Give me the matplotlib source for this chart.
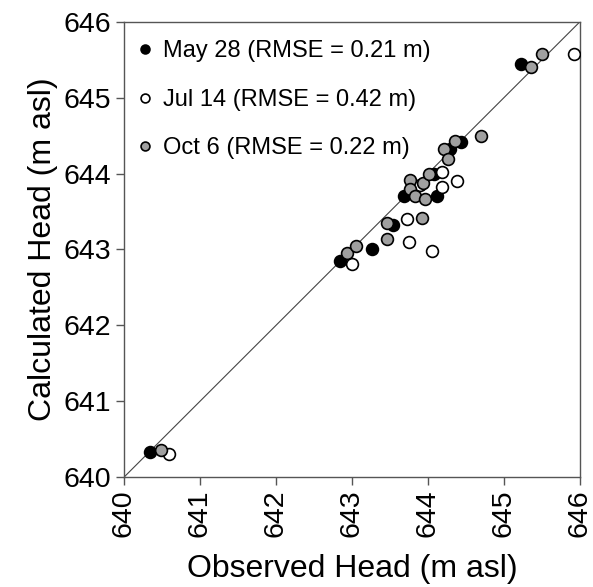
import numpy as np
import matplotlib.pyplot as plt

plt.rcParams['font.family'] = ['Liberation Sans', 'DejaVu Sans']

# observed vs calculated head
may_obs = [640.34, 642.84, 643.26, 643.54, 643.68, 644.08, 644.12, 644.29, 644.43, 645.23]
may_calc = [640.33, 642.85, 643.00, 643.32, 643.70, 643.99, 643.70, 644.32, 644.41, 645.44]

jul_obs = [640.59, 643.00, 643.72, 643.75, 644.05, 644.19, 644.19, 644.38, 643.90, 645.92]
jul_calc = [640.31, 642.81, 643.40, 643.10, 642.98, 644.02, 643.82, 643.90, 643.85, 645.58]

oct_obs = [640.49, 642.93, 643.05, 643.46, 643.46, 643.92, 643.76, 643.76, 643.83, 643.96,
           643.93, 644.01, 644.21, 644.27, 644.36, 644.70, 645.36, 645.50]
oct_calc = [640.36, 642.96, 643.04, 643.35, 643.14, 643.41, 643.91, 643.80, 643.70, 643.67,
            643.87, 644.00, 644.33, 644.19, 644.43, 644.49, 645.41, 645.57]

labels = ['May 28 (RMSE = 0.21 m)', 'Jul 14 (RMSE = 0.42 m)', 'Oct 6 (RMSE = 0.22 m)']
ticks = [640, 641, 642, 643, 644, 645, 646]

fig = plt.figure(figsize=(5.93, 5.87), dpi=100)
ax = fig.add_axes([0.209, 0.187, 0.769, 0.776])

ax.plot([640, 646], [640, 646], color='#444444', lw=0.8, zorder=1)

ms = 8.5
ax.plot(may_obs, may_calc, 'o', ms=ms, mfc='black', mec='black', mew=1.2, label=labels[0], zorder=3)
ax.plot(jul_obs, jul_calc, 'o', ms=ms, mfc='white', mec='black', mew=1.2, label=labels[1], zorder=3)
ax.plot(oct_obs, oct_calc, 'o', ms=ms, mfc='#a0a0a0', mec='black', mew=1.2, label=labels[2], zorder=3)

ax.set_xlim(640, 646)
ax.set_ylim(640, 646)
ax.set_xticks(ticks)
ax.set_yticks(ticks)
ax.set_xticklabels([str(t) for t in ticks], rotation=90, fontsize=20.5)
ax.set_yticklabels([str(t) for t in ticks], fontsize=20.5)
ax.tick_params(direction='out', length=6, width=1, color='#555555', pad=3)
for s in ax.spines.values():
    s.set_color('#555555')
    s.set_linewidth(1)

ax.set_xlabel('Observed Head (m asl)', fontsize=23, labelpad=12)
ax.set_ylabel('Calculated Head (m asl)', fontsize=23, labelpad=4)

leg = ax.legend(loc='upper left', frameon=False, fontsize=17, markerscale=0.75,
                handlelength=0.6, handletextpad=0.45, labelspacing=1.12,
                borderaxespad=0.2, bbox_to_anchor=(0.0, 0.99))

fig.savefig('out.png', dpi=100)
